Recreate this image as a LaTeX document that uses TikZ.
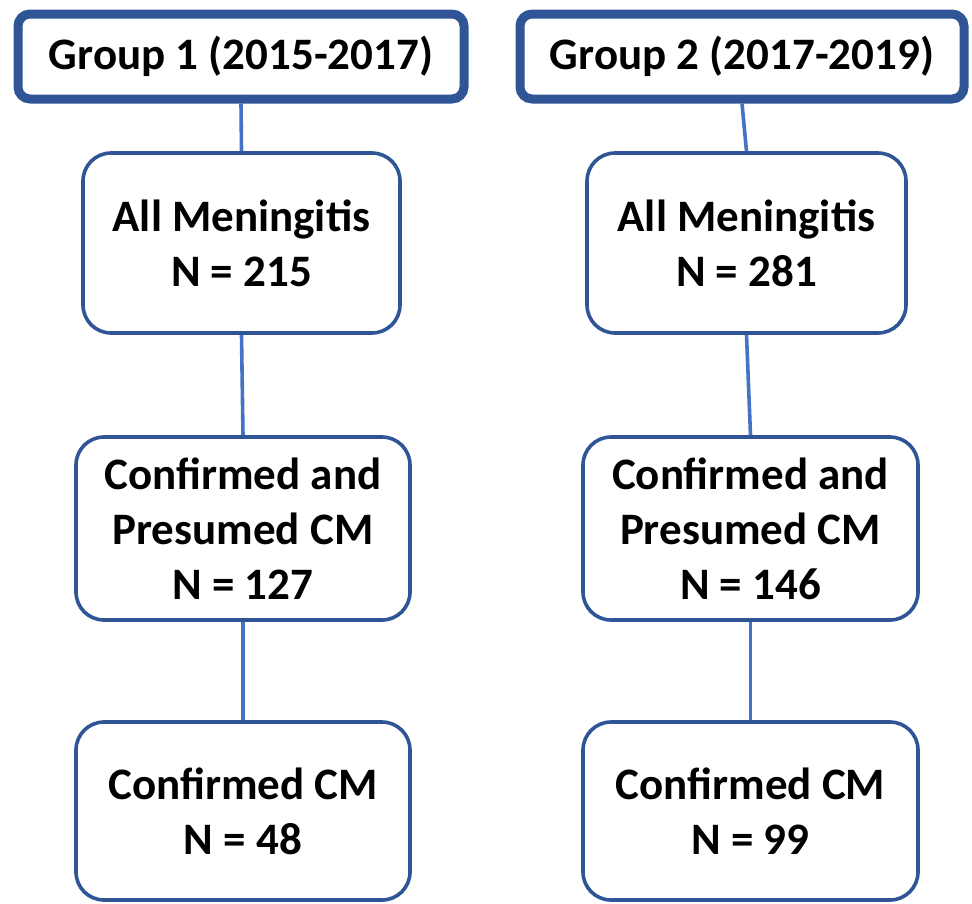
\documentclass[tikz,border=0pt]{standalone}
\usepackage{fontspec}
\setmainfont{Carlito}
\definecolor{boxblue}{HTML}{2F5597}
\definecolor{lineblue}{HTML}{4472C4}

\tikzset{
  grp/.style={draw=boxblue, line width=9pt, rounded corners=12pt, fill=white, inner sep=0pt, align=center},
  cmbox/.style={draw=boxblue, line width=3.6pt, rounded corners=28pt, fill=white, inner sep=0pt, align=center},
  link/.style={draw=lineblue, line width=3.6pt}
}

\begin{document}
\begin{tikzpicture}[x=1pt, y=-1pt, font=\fontsize{45}{55}\selectfont\bfseries]
        \useasboundingbox (0,0) rectangle (972,903);

        \node[grp, minimum width=446pt, minimum height=85pt] (g1) at (241,56.5) {Group 1 (2015-2017)};
        \node[grp, minimum width=444pt, minimum height=85pt] (g2) at (742,56.5) {Group 2 (2017-2019)};

        \node[cmbox, minimum width=317pt, minimum height=180pt] (all1) at (241.5,243) {All Meningitis\\N = 215};
        \node[cmbox, minimum width=319pt, minimum height=180pt] (all2) at (746.5,243) {All Meningitis\\N = 281};

        \node[cmbox, minimum width=334pt, minimum height=183pt] (pres1) at (243,528.5) {Confirmed and\\Presumed CM\\N = 127};
        \node[cmbox, minimum width=335pt, minimum height=183pt] (pres2) at (750.5,528.5) {Confirmed and\\Presumed CM\\N = 146};

        \node[cmbox, minimum width=334pt, minimum height=178pt] (conf1) at (243,811) {Confirmed CM\\N = 48};
        \node[cmbox, minimum width=335pt, minimum height=178pt] (conf2) at (750.5,811) {Confirmed CM\\N = 99};

        \draw[link] (g1.south) -- (all1.north);
        \draw[link] (all1.south) -- (pres1.north);
        \draw[link] (pres1.south) -- (conf1.north);
        \draw[link] (g2.south) -- (all2.north);
        \draw[link] (all2.south) -- (pres2.north);
        \draw[link] (pres2.south) -- (conf2.north);
\end{tikzpicture}
\end{document}
